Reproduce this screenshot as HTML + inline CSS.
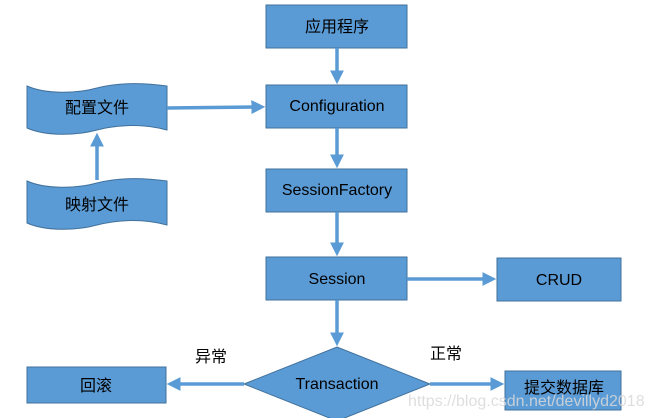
<!DOCTYPE html>
<html><head><meta charset="utf-8"><style>
html,body{margin:0;padding:0;background:#fff;width:651px;height:418px;overflow:hidden}
text{font-family:"Liberation Sans","Noto Sans CJK SC",sans-serif;font-size:16px;fill:#000}
</style></head><body>
<svg width="651" height="418" viewBox="0 0 651 418" xmlns="http://www.w3.org/2000/svg">
<defs><marker id="a" markerWidth="4" markerHeight="4" refX="2.2" refY="2" orient="auto" markerUnits="strokeWidth"><path d="M0,0 L4,2 L0,4 z" fill="#5b9bd5"/></marker></defs>
<g fill="#5b9bd5" stroke="#41719c" stroke-width="1">
<rect x="266" y="5" width="141" height="43"/>
<rect x="266" y="85" width="141" height="43"/>
<rect x="266" y="169" width="141" height="43"/>
<rect x="266" y="257" width="141" height="43"/>
<rect x="497" y="258" width="124" height="43"/>
<rect x="27" y="367" width="139" height="36"/>
<rect x="505" y="371" width="116" height="39"/>
<path d="M244,384 L337,347 L430,384 L337,421 z"/>
<path d="M27,86 C45,94 75,94 97,88 C120,82 145,83 167,86 L167,130 C145,124 120,124 97,130 C75,136 45,136 27,128 z"/>
<path d="M27,181 C45,189 75,189 97,183 C120,177 145,178 167,181 L167,225 C145,219 120,219 97,225 C75,231 45,231 27,223 z"/>
</g>
<g stroke="#5b9bd5" stroke-width="3.5" fill="none" marker-end="url(#a)">
<line x1="337" y1="48" x2="337" y2="78"/>
<line x1="337" y1="128" x2="337" y2="162"/>
<line x1="337" y1="212" x2="337" y2="250"/>
<line x1="337" y1="300" x2="337" y2="340"/>
<line x1="407" y1="279" x2="490" y2="279"/>
<line x1="167" y1="108" x2="259" y2="107"/>
<line x1="97" y1="180" x2="97" y2="139"/>
<line x1="244" y1="384" x2="173" y2="384"/>
<line x1="430" y1="384" x2="498" y2="384"/>
</g>
<g text-anchor="middle">
<text x="337" y="32">应用程序</text>
<text x="337" y="111" font-size="13">Configuration</text>
<text x="337" y="195" font-size="13">SessionFactory</text>
<text x="337" y="284" font-size="13">Session</text>
<text x="559" y="285" font-size="13">CRUD</text>
<text x="97" y="113">配置文件</text>
<text x="97" y="210">映射文件</text>
<text x="96" y="391">回滚</text>
<text x="337" y="389" font-size="13">Transaction</text>
<text x="564" y="393">提交数据库</text>
<text x="211" y="362">异常</text>
<text x="446" y="359">正常</text>
</g>
<text x="408" y="406" font-size="16" style="fill:#d8d8d8;fill-opacity:0.85">https://blog.csdn.net/devillyd2018</text>
</svg>
</body></html>
